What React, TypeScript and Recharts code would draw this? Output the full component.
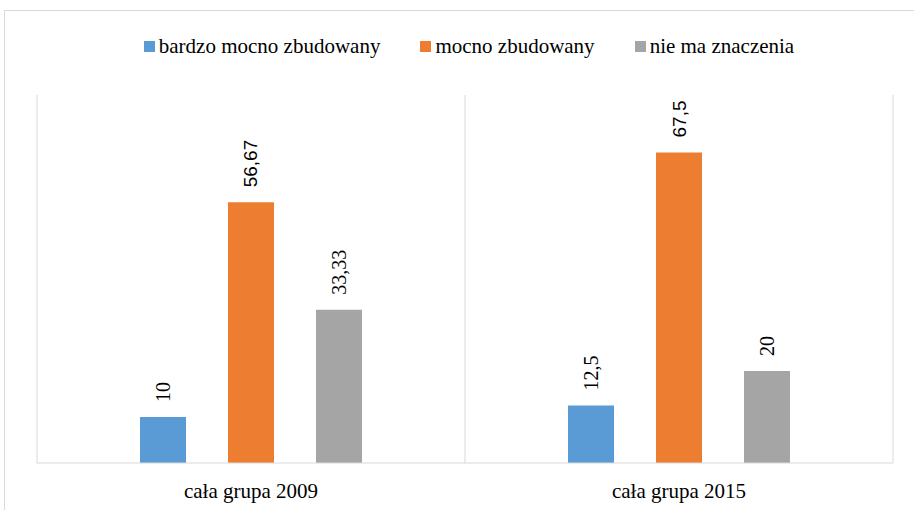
import { BarChart, Bar, XAxis, YAxis, CartesianGrid, Legend, LabelList } from 'recharts';

const categories = ['cała grupa 2009', 'cała grupa 2015'];
const seriesNames = ['bardzo mocno zbudowany', 'mocno zbudowany', 'nie ma znaczenia'];
const bardzoMocno = [10, 12.5];
const mocno = [56.67, 67.5];
const nieMaZnaczenia = [33.33, 20];

const COLORS = ['#5B9BD5', '#ED7D31', '#A5A5A5'];
const SERIF = '"Liberation Serif", "Times New Roman", serif';
const SANS = '"Liberation Sans", Arial, sans-serif';

const data = categories.map((name, i) => ({
  name,
  s0: bardzoMocno[i],
  s1: mocno[i],
  s2: nieMaZnaczenia[i],
}));

const fmt = (v: number) => String(v).replace('.', ',');

// value written vertically above the bar
const makeLabel = (fontFamily: string, fontSize: number) => (props: any) => {
  const { x, y, width, value } = props;
  const cx = Number(x) + Number(width) / 2;
  const ty = Number(y) - 15;
  return (
    <text
      x={cx}
      y={ty}
      transform={`rotate(-90 ${cx} ${ty})`}
      textAnchor="start"
      dominantBaseline="central"
      style={{ fontFamily, fontSize }}
      fill="#000"
    >
      {fmt(value)}
    </text>
  );
};

const renderLegend = () => (
  <div
    style={{
      height: 70,
      boxSizing: 'border-box',
      paddingTop: 9,
      display: 'flex',
      justifyContent: 'center',
      fontFamily: SERIF,
      fontSize: 21,
      lineHeight: '24px',
      color: '#000',
    }}
  >
    {seriesNames.map((n, i) => (
      <div key={n} style={{ display: 'flex', alignItems: 'center', height: 24, marginRight: i < seriesNames.length - 1 ? 40 : 0 }}>
        <span style={{ width: 11, height: 11, background: COLORS[i], marginRight: 4, display: 'inline-block' }} />
        <span style={{ fontFamily: SERIF }}>{n}</span>
      </div>
    ))}
  </div>
);

export default function App() {
  return (
    <div style={{ position: 'absolute', left: 0, top: 0, width: 914, height: 510, overflow: 'hidden', background: '#fff' }}>
      <div
        style={{
          position: 'absolute',
          left: 4,
          top: 10,
          width: 930,
          height: 520,
          border: '1px solid #d9d9d9',
          boxSizing: 'border-box',
        }}
      >
        <BarChart
          width={928}
          height={518}
          data={data}
          margin={{ top: 14, right: 40, bottom: 26, left: 32 }}
          barCategoryGap={103}
          barGap={42}
        >
          <CartesianGrid
            horizontal={false}
            stroke="#d9d9d9"
            verticalCoordinatesGenerator={({ offset }: any) => [
              offset.left,
              offset.left + offset.width / 2,
              offset.left + offset.width,
            ]}
          />
          <XAxis
            dataKey="name"
            height={40}
            axisLine={{ stroke: '#d9d9d9' }}
            tickLine={false}
            tickSize={0}
            tickMargin={20}
            tick={{ fontFamily: SERIF, fontSize: 21, fill: '#000' }}
          />
          <YAxis hide domain={[0, 80]} />
          <Legend verticalAlign="top" content={renderLegend} wrapperStyle={{ left: 0, top: 14, width: 928 }} />
          <Bar dataKey="s0" name={seriesNames[0]} fill={COLORS[0]} isAnimationActive={false}>
            <LabelList dataKey="s0" content={makeLabel(SERIF, 20)} />
          </Bar>
          <Bar dataKey="s1" name={seriesNames[1]} fill={COLORS[1]} isAnimationActive={false}>
            <LabelList dataKey="s1" content={makeLabel(SANS, 19)} />
          </Bar>
          <Bar dataKey="s2" name={seriesNames[2]} fill={COLORS[2]} isAnimationActive={false}>
            <LabelList dataKey="s2" content={makeLabel(SERIF, 20)} />
          </Bar>
        </BarChart>
      </div>
    </div>
  );
}
